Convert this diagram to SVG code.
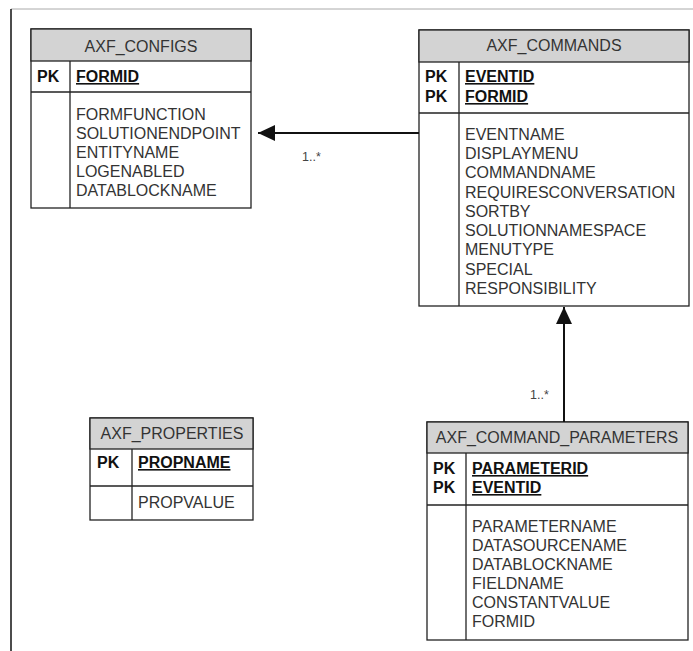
<svg xmlns="http://www.w3.org/2000/svg" width="693" height="651" viewBox="0 0 693 651">
<style>
.box{fill:#fff;stroke:#222;stroke-width:1.3}
.hdr{fill:#d3d3d3;stroke:#222;stroke-width:1.3}
.ln{stroke:#222;stroke-width:1.3;fill:none}
text{font-family:"Liberation Sans",Arial,sans-serif;font-size:16px;fill:#333}
.t{text-anchor:middle}
.pk{font-weight:bold;fill:#111}
.key{font-weight:bold;fill:#111;text-decoration:underline}
.lbl{font-size:12.5px;fill:#444}
.conn{stroke:#111;stroke-width:2;fill:none}
</style>
<defs>
<marker id="arr" markerWidth="18" markerHeight="16" refX="17" refY="8" orient="auto" markerUnits="userSpaceOnUse">
<path d="M0,0 L17,8 L0,16 Z" fill="#111"/>
</marker>
</defs>
<line x1="11" y1="9" x2="693" y2="9" stroke="#aaa" stroke-width="1"/>
<line x1="11" y1="9" x2="11" y2="651" stroke="#111" stroke-width="1.5"/>

<g id="axf_configs">
<rect class="box" x="31" y="29" width="220" height="179"/>
<rect class="hdr" x="31" y="29" width="220" height="32"/>
<line class="ln" x1="31" y1="92" x2="251" y2="92"/>
<line class="ln" x1="70" y1="61" x2="70" y2="208"/>
<text class="t" x="141" y="52">AXF_CONFIGS</text>
<text class="pk" x="37" y="82">PK</text>
<text class="key" x="76" y="82">FORMID</text>
<text x="76" y="120">FORMFUNCTION</text>
<text x="76" y="139">SOLUTIONENDPOINT</text>
<text x="76" y="158">ENTITYNAME</text>
<text x="76" y="177">LOGENABLED</text>
<text x="76" y="196">DATABLOCKNAME</text>
</g>

<g id="axf_commands">
<rect class="box" x="419" y="30" width="270" height="276"/>
<rect class="hdr" x="419" y="30" width="270" height="32"/>
<line class="ln" x1="419" y1="113" x2="689" y2="113"/>
<line class="ln" x1="459" y1="62" x2="459" y2="306"/>
<text class="t" x="554" y="51">AXF_COMMANDS</text>
<text class="pk" x="425" y="82">PK</text>
<text class="pk" x="425" y="102">PK</text>
<text class="key" x="465" y="82">EVENTID</text>
<text class="key" x="465" y="102">FORMID</text>
<text x="465" y="140">EVENTNAME</text>
<text x="465" y="159">DISPLAYMENU</text>
<text x="465" y="178">COMMANDNAME</text>
<text x="465" y="198">REQUIRESCONVERSATION</text>
<text x="465" y="217">SORTBY</text>
<text x="465" y="236">SOLUTIONNAMESPACE</text>
<text x="465" y="255">MENUTYPE</text>
<text x="465" y="275">SPECIAL</text>
<text x="465" y="294">RESPONSIBILITY</text>
</g>

<g id="axf_properties">
<rect class="box" x="90" y="418" width="163" height="102"/>
<rect class="hdr" x="90" y="418" width="163" height="31"/>
<line class="ln" x1="90" y1="486" x2="253" y2="486"/>
<line class="ln" x1="132" y1="449" x2="132" y2="520"/>
<text class="t" x="172" y="439">AXF_PROPERTIES</text>
<text class="pk" x="97" y="468">PK</text>
<text class="key" x="138" y="468">PROPNAME</text>
<text x="138" y="508">PROPVALUE</text>
</g>

<g id="axf_command_parameters">
<rect class="box" x="427" y="422" width="261" height="218"/>
<rect class="hdr" x="427" y="422" width="261" height="31"/>
<line class="ln" x1="427" y1="505" x2="688" y2="505"/>
<line class="ln" x1="466" y1="453" x2="466" y2="640"/>
<text class="t" x="557" y="443">AXF_COMMAND_PARAMETERS</text>
<text class="pk" x="433" y="474">PK</text>
<text class="pk" x="433" y="493">PK</text>
<text class="key" x="472" y="474">PARAMETERID</text>
<text class="key" x="472" y="493">EVENTID</text>
<text x="472" y="532">PARAMETERNAME</text>
<text x="472" y="551">DATASOURCENAME</text>
<text x="472" y="570">DATABLOCKNAME</text>
<text x="472" y="589">FIELDNAME</text>
<text x="472" y="608">CONSTANTVALUE</text>
<text x="472" y="627">FORMID</text>
</g>

<g id="connectors">
<line class="conn" x1="419" y1="133" x2="258" y2="133" marker-end="url(#arr)"/>
<text class="lbl" x="302" y="161">1..*</text>
<line class="conn" x1="564" y1="422" x2="564" y2="307" marker-end="url(#arr)"/>
<text class="lbl" x="530" y="399">1..*</text>
</g>
</svg>
